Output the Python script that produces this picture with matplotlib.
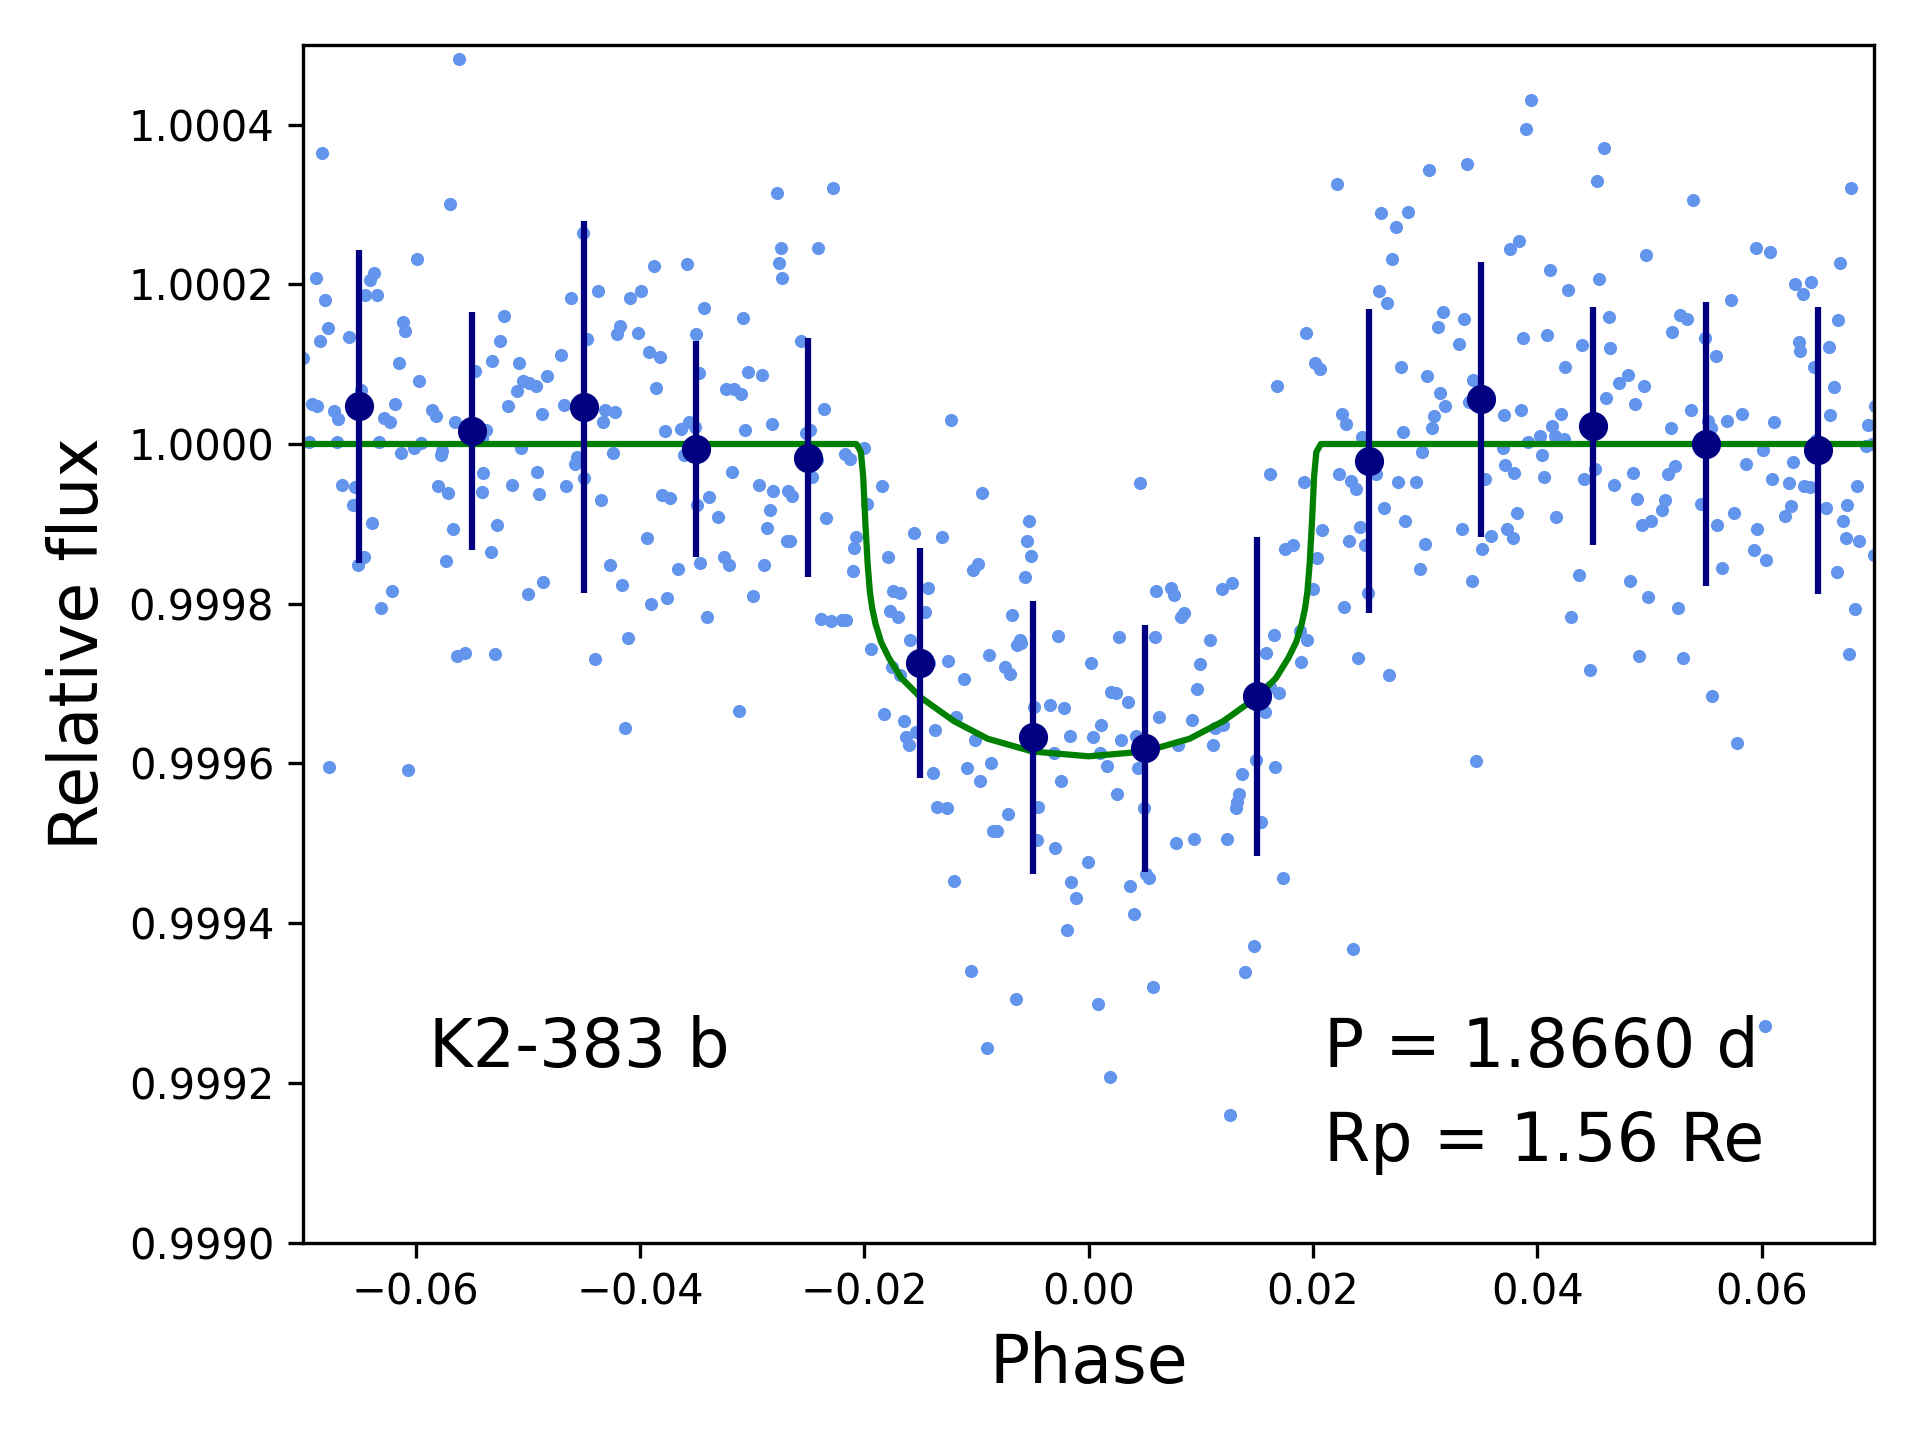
import matplotlib
matplotlib.use("Agg")
import matplotlib.pyplot as plt
from matplotlib.ticker import FormatStrFormatter

# unbinned photometry (phase, relative flux)
phase = [
    -0.0561, -0.0683, -0.0569, -0.0451, -0.0599, -0.0689, -0.0637, -0.0641, -0.0645, -0.0634,
    -0.0681, -0.0387, -0.0358, -0.0461, -0.0437, -0.0409, -0.0399, -0.0521, -0.0611, -0.0609,
    -0.0678, -0.0685, -0.0659, -0.0525, -0.0447, -0.0418, -0.0420, -0.0402, -0.0350, -0.0343,
    -0.0700, -0.0615, -0.0532, -0.0508, -0.0470, -0.0392, -0.0382, -0.0547, -0.0597, -0.0504,
    -0.0499, -0.0493, -0.0483, -0.0510, -0.0386, -0.0347, -0.0649, -0.0692, -0.0688, -0.0673,
    -0.0669, -0.0618, -0.0628, -0.0623, -0.0585, -0.0582, -0.0565, -0.0518, -0.0487, -0.0468,
    -0.0431, -0.0422, -0.0433, -0.0537, -0.0378, -0.0363, -0.0356, -0.0351, -0.0695, -0.0670,
    -0.0633, -0.0595, -0.0601, -0.0613, -0.0576, -0.0577, -0.0541, -0.0506, -0.0456, -0.0458,
    -0.0424, -0.0361, -0.0666, -0.0654, -0.0656, -0.0639, -0.0580, -0.0571, -0.0540, -0.0541,
    -0.0514, -0.0492, -0.0490, -0.0466, -0.0450, -0.0435, -0.0380, -0.0373, -0.0349, -0.0567,
    -0.0527, -0.0394, -0.0646, -0.0651, -0.0573, -0.0533, -0.0427, -0.0366, -0.0346, -0.0621,
    -0.0631, -0.0500, -0.0486, -0.0416, -0.0390, -0.0376, -0.0411,
    -0.0563, -0.0556, -0.0529, -0.0440, -0.0413, -0.0677, -0.0607,
    -0.0278, -0.0228, -0.0274, -0.0241, -0.0276, -0.0273, -0.0308, -0.0256, -0.0304, -0.0291,
    -0.0323, -0.0316, -0.0310, -0.0236, -0.0123, -0.0282, -0.0306, -0.0252, -0.0248, -0.0200,
    -0.0217, -0.0213, -0.0242, -0.0247, -0.0318, -0.0294, -0.0281, -0.0268, -0.0264, -0.0184,
    -0.0095, -0.0198, -0.0338, -0.0330, -0.0284, -0.0287, -0.0234, -0.0269, -0.0266, -0.0207,
    -0.0209, -0.0156, -0.0131, -0.0053, -0.0055, -0.0051, -0.0179, -0.0103, -0.0099, -0.0057,
    -0.0325, -0.0321, -0.0289, -0.0210, -0.0299, -0.0340, -0.0239, -0.0230, -0.0220, -0.0216,
    -0.0174, -0.0168, -0.0143, -0.0177, -0.0170, -0.0146, -0.0068, -0.0159, -0.0061, -0.0027,
    -0.0194, -0.0175, -0.0168, -0.0142, -0.0125, -0.0111, -0.0089, -0.0075, -0.0070, -0.0064,
    -0.0060, 0.0002, -0.0312, -0.0182, -0.0165, -0.0154, -0.0163, -0.0160, -0.0137, -0.0118,
    -0.0101, -0.0049, -0.0034, -0.0022, -0.0017, 0.0004, 0.0011, -0.0031, 0.0010, -0.0139,
    -0.0108, -0.0087, -0.0097, -0.0025, -0.0135, -0.0126, -0.0072, -0.0045, -0.0085, -0.0082,
    -0.0046, -0.0030, -0.0001, -0.0120, -0.0016, -0.0011, -0.0019, -0.0105, -0.0065, 0.0008,
    -0.0091,
    0.0221, 0.0303, 0.0337, 0.0261, 0.0285, 0.0274, 0.0270, 0.0259, 0.0266, 0.0316,
    0.0311, 0.0335, 0.0330, 0.0194, 0.0202, 0.0206, 0.0278, 0.0302, 0.0343, 0.0313,
    0.0318, 0.0339, 0.0168, 0.0226, 0.0229, 0.0308, 0.0306, 0.0280, 0.0244, 0.0297,
    0.0256, 0.0162, 0.0192, 0.0223, 0.0234, 0.0238, 0.0276, 0.0292, 0.0353, 0.0046,
    0.0263, 0.0282, 0.0208, 0.0242, 0.0232, 0.0246, 0.0300, 0.0333, 0.0351, 0.0359,
    0.0175, 0.0182, 0.0204, 0.0295, 0.0342, 0.0249, 0.0200, 0.0228, 0.0060, 0.0073,
    0.0076, 0.0119, 0.0128, 0.0085, 0.0082, 0.0027, 0.0059, 0.0108, 0.0165, 0.0188,
    0.0195,
    0.0158, 0.0189, 0.0240, 0.0268, 0.0099, 0.0097, 0.0020, 0.0024, 0.0035, 0.0063,
    0.0092, 0.0029, 0.0042, 0.0080, 0.0113, 0.0120, 0.0111, 0.0162, 0.0170, 0.0157,
    0.0016, 0.0044, 0.0025, 0.0049, 0.0149, 0.0166, 0.0137, 0.0134, 0.0132, 0.0131,
    0.0154, 0.0078, 0.0094, 0.0123, 0.0051, 0.0054, 0.0037, 0.0040, 0.0173, 0.0345,
    0.0147, 0.0139, 0.0236, 0.0057, 0.0019, 0.0126,
    0.0394, 0.0390, 0.0459, 0.0453, 0.0539, 0.0680, 0.0384, 0.0376, 0.0411, 0.0427,
    0.0455, 0.0497, 0.0595, 0.0607, 0.0670, 0.0630, 0.0644, 0.0637, 0.0573, 0.0464,
    0.0527, 0.0533, 0.0668, 0.0520, 0.0387, 0.0409, 0.0440, 0.0465, 0.0549, 0.0559,
    0.0633, 0.0634, 0.0660, 0.0647, 0.0425, 0.0473, 0.0481, 0.0495, 0.0461, 0.0487,
    0.0664, 0.0370, 0.0385, 0.0421, 0.0413, 0.0402, 0.0416, 0.0424, 0.0392, 0.0369,
    0.0449, 0.0537, 0.0519, 0.0552, 0.0555, 0.0569, 0.0582, 0.0611, 0.0661, 0.0695,
    0.0701, 0.0601, 0.0648, 0.0693, 0.0698, 0.0371, 0.0379, 0.0404, 0.0406, 0.0442,
    0.0451, 0.0468, 0.0485, 0.0516, 0.0523, 0.0586, 0.0609, 0.0624, 0.0628, 0.0638,
    0.0643, 0.0685, 0.0489, 0.0514, 0.0511, 0.0546, 0.0575, 0.0626, 0.0621, 0.0657,
    0.0676, 0.0672, 0.0382, 0.0417, 0.0373, 0.0378, 0.0493, 0.0501, 0.0560, 0.0596,
    0.0675, 0.0687, 0.0593, 0.0604, 0.0700, 0.0565, 0.0667, 0.0437, 0.0483, 0.0499,
    0.0525, 0.0430, 0.0683,
    0.0447, 0.0491, 0.0530, 0.0678, 0.0556, 0.0578, 0.0603,
]

flux = [
    1.000482, 1.000364, 1.000300, 1.000264, 1.000232, 1.000208, 1.000214, 1.000205, 1.000187, 1.000187,
    1.000180, 1.000223, 1.000225, 1.000183, 1.000191, 1.000183, 1.000191, 1.000160, 1.000153, 1.000141,
    1.000145, 1.000129, 1.000134, 1.000129, 1.000131, 1.000148, 1.000138, 1.000139, 1.000138, 1.000170,
    1.000108, 1.000101, 1.000104, 1.000101, 1.000111, 1.000115, 1.000109, 1.000091, 1.000079, 1.000079,
    1.000076, 1.000073, 1.000085, 1.000066, 1.000070, 1.000089, 1.000067, 1.000050, 1.000047, 1.000041,
    1.000031, 1.000050, 1.000033, 1.000027, 1.000043, 1.000035, 1.000027, 1.000048, 1.000037, 1.000049,
    1.000043, 1.000040, 1.000028, 1.000018, 1.000016, 1.000019, 1.000027, 1.000021, 1.000002, 1.000002,
    1.000002, 1.000001, 0.999995, 0.999989, 0.999991, 0.999986, 1.000007, 0.999995, 0.999984, 0.999975,
    0.999989, 0.999986, 0.999949, 0.999946, 0.999924, 0.999901, 0.999948, 0.999939, 0.999964, 0.999940,
    0.999949, 0.999965, 0.999937, 0.999947, 0.999958, 0.999930, 0.999936, 0.999933, 0.999924, 0.999894,
    0.999899, 0.999882, 0.999859, 0.999848, 0.999854, 0.999865, 0.999848, 0.999844, 0.999851, 0.999816,
    0.999795, 0.999812, 0.999827, 0.999823, 0.999800, 0.999807, 0.999757,
    0.999735, 0.999738, 0.999737, 0.999731, 0.999645, 0.999595, 0.999592,
    1.000314, 1.000321, 1.000245, 1.000245, 1.000227, 1.000208, 1.000158, 1.000129, 1.000090, 1.000086,
    1.000069, 1.000069, 1.000062, 1.000044, 1.000030, 1.000025, 1.000017, 1.000014, 1.000018, 0.999995,
    0.999987, 0.999981, 0.999980, 0.999959, 0.999965, 0.999949, 0.999941, 0.999941, 0.999935, 0.999948,
    0.999939, 0.999925, 0.999934, 0.999908, 0.999917, 0.999895, 0.999907, 0.999878, 0.999878, 0.999883,
    0.999870, 0.999889, 0.999883, 0.999903, 0.999879, 0.999860, 0.999858, 0.999842, 0.999850, 0.999834,
    0.999858, 0.999848, 0.999849, 0.999841, 0.999810, 0.999784, 0.999781, 0.999778, 0.999780, 0.999780,
    0.999816, 0.999813, 0.999820, 0.999791, 0.999783, 0.999790, 0.999786, 0.999754, 0.999754, 0.999760,
    0.999743, 0.999721, 0.999711, 0.999726, 0.999728, 0.999706, 0.999736, 0.999721, 0.999712, 0.999748,
    0.999751, 0.999726, 0.999666, 0.999662, 0.999653, 0.999640, 0.999633, 0.999623, 0.999642, 0.999658,
    0.999630, 0.999671, 0.999673, 0.999669, 0.999635, 0.999633, 0.999648, 0.999613, 0.999613, 0.999588,
    0.999594, 0.999600, 0.999578, 0.999578, 0.999545, 0.999544, 0.999537, 0.999545, 0.999515, 0.999515,
    0.999504, 0.999494, 0.999477, 0.999453, 0.999451, 0.999431, 0.999392, 0.999340, 0.999305, 0.999299,
    0.999244,
    1.000325, 1.000343, 1.000351, 1.000289, 1.000290, 1.000272, 1.000231, 1.000192, 1.000176, 1.000165,
    1.000147, 1.000156, 1.000125, 1.000139, 1.000102, 1.000094, 1.000096, 1.000085, 1.000080, 1.000064,
    1.000047, 1.000053, 1.000072, 1.000038, 1.000025, 1.000035, 1.000020, 1.000015, 1.000009, 0.999990,
    0.999963, 0.999962, 0.999953, 0.999963, 0.999954, 0.999944, 0.999953, 0.999953, 0.999956, 0.999951,
    0.999920, 0.999904, 0.999892, 0.999896, 0.999879, 0.999874, 0.999875, 0.999894, 0.999869, 0.999885,
    0.999869, 0.999874, 0.999857, 0.999844, 0.999829, 0.999814, 0.999819, 0.999796, 0.999816, 0.999820,
    0.999811, 0.999818, 0.999826, 0.999788, 0.999784, 0.999758, 0.999758, 0.999755, 0.999761, 0.999766,
    0.999754,
    0.999738, 0.999727, 0.999732, 0.999711, 0.999725, 0.999693, 0.999689, 0.999688, 0.999677, 0.999658,
    0.999654, 0.999630, 0.999635, 0.999623, 0.999645, 0.999648, 0.999623, 0.999696, 0.999688, 0.999664,
    0.999597, 0.999594, 0.999562, 0.999544, 0.999604, 0.999595, 0.999587, 0.999562, 0.999552, 0.999544,
    0.999527, 0.999501, 0.999505, 0.999505, 0.999462, 0.999457, 0.999446, 0.999412, 0.999457, 0.999603,
    0.999371, 0.999339, 0.999368, 0.999320, 0.999208, 0.999160,
    1.000431, 1.000394, 1.000370, 1.000329, 1.000305, 1.000321, 1.000254, 1.000244, 1.000218, 1.000193,
    1.000206, 1.000237, 1.000245, 1.000240, 1.000226, 1.000200, 1.000203, 1.000188, 1.000180, 1.000159,
    1.000162, 1.000157, 1.000155, 1.000140, 1.000133, 1.000136, 1.000124, 1.000120, 1.000133, 1.000110,
    1.000128, 1.000117, 1.000122, 1.000097, 1.000096, 1.000076, 1.000086, 1.000072, 1.000057, 1.000050,
    1.000071, 1.000036, 1.000043, 1.000038, 1.000023, 1.000010, 1.000010, 1.000006, 1.000003, 0.999995,
    1.000010, 1.000042, 1.000020, 1.000029, 1.000020, 1.000029, 1.000037, 1.000028, 1.000036, 1.000024,
    1.000047, 0.999993, 1.000005, 0.999997, 1.000000, 0.999974, 0.999964, 0.999986, 0.999959, 0.999956,
    0.999969, 0.999949, 0.999964, 0.999962, 0.999973, 0.999975, 0.999956, 0.999951, 0.999977, 0.999947,
    0.999946, 0.999947, 0.999931, 0.999930, 0.999917, 0.999925, 0.999913, 0.999923, 0.999910, 0.999920,
    0.999924, 0.999903, 0.999913, 0.999908, 0.999894, 0.999882, 0.999899, 0.999904, 0.999899, 0.999894,
    0.999882, 0.999879, 0.999867, 0.999855, 0.999861, 0.999845, 0.999840, 0.999836, 0.999829, 0.999809,
    0.999795, 0.999783, 0.999794,
    0.999717, 0.999734, 0.999732, 0.999737, 0.999684, 0.999626, 0.999271,
]

# binned points with error bars
bin_phase = [-0.065, -0.055, -0.045, -0.035, -0.025, -0.015, -0.005,
             0.005, 0.015, 0.025, 0.035, 0.045, 0.055, 0.065]
bin_flux = [1.000047, 1.000016, 1.000046, 0.999994, 0.999983, 0.999726, 0.999633,
            0.999619, 0.999684, 0.999979, 1.000056, 1.000023, 1.000000, 0.999992]
bin_err = [0.000196, 0.000149, 0.000233, 0.000135, 0.000150, 0.000144, 0.000171,
           0.000155, 0.000200, 0.000190, 0.000172, 0.000149, 0.000178, 0.000180]

# transit model curve
model_phase = [-0.0700, -0.0207, -0.0203, -0.0201, -0.0199, -0.0197, -0.0195, -0.0193,
               -0.0190, -0.0185, -0.0178, -0.0167, -0.0150, -0.0120, -0.0090, -0.0050,
               0.0000, 0.0050, 0.0090, 0.0120, 0.0150, 0.0167, 0.0178, 0.0185,
               0.0190, 0.0193, 0.0195, 0.0197, 0.0199, 0.0201, 0.0203, 0.0207, 0.0700]
model_flux = [1.000000, 1.000000, 0.999990, 0.999960, 0.999900, 0.999850, 0.999815, 0.999795,
              0.999775, 0.999752, 0.999732, 0.999707, 0.999683, 0.999653, 0.999631, 0.999615,
              0.999609, 0.999615, 0.999631, 0.999653, 0.999683, 0.999707, 0.999732, 0.999752,
              0.999775, 0.999795, 0.999815, 0.999850, 0.999900, 0.999960, 0.999990, 1.000000,
              1.000000]

fig = plt.figure(figsize=(6.4, 4.8), dpi=300)
ax = fig.add_axes([0.158, 0.137, 0.818, 0.832])

ax.scatter(phase, flux, s=10, color='cornflowerblue', linewidths=0, zorder=1)
ax.plot(model_phase, model_flux, color='green', lw=1.5, zorder=2)
ax.errorbar(bin_phase, bin_flux, yerr=bin_err, fmt='o', color='navy',
            ms=6, elinewidth=1.5, capsize=0, zorder=3)

ax.set_xlim(-0.07, 0.07)
ax.set_ylim(0.9990, 1.0005)
ax.set_yticks([0.9990, 0.9992, 0.9994, 0.9996, 0.9998, 1.0000, 1.0002, 1.0004])
ax.yaxis.set_major_formatter(FormatStrFormatter('%.4f'))
ax.tick_params(labelsize=10)

ax.set_xlabel('Phase', fontsize=16)
ax.set_ylabel('Relative flux', fontsize=16)

ax.text(0.08, 0.147, 'K2-383 b', fontsize=16, transform=ax.transAxes)
ax.text(0.65, 0.147, 'P = 1.8660 d', fontsize=16, transform=ax.transAxes)
ax.text(0.65, 0.068, 'Rp = 1.56 Re', fontsize=16, transform=ax.transAxes)

fig.savefig('out.png', dpi=300)
